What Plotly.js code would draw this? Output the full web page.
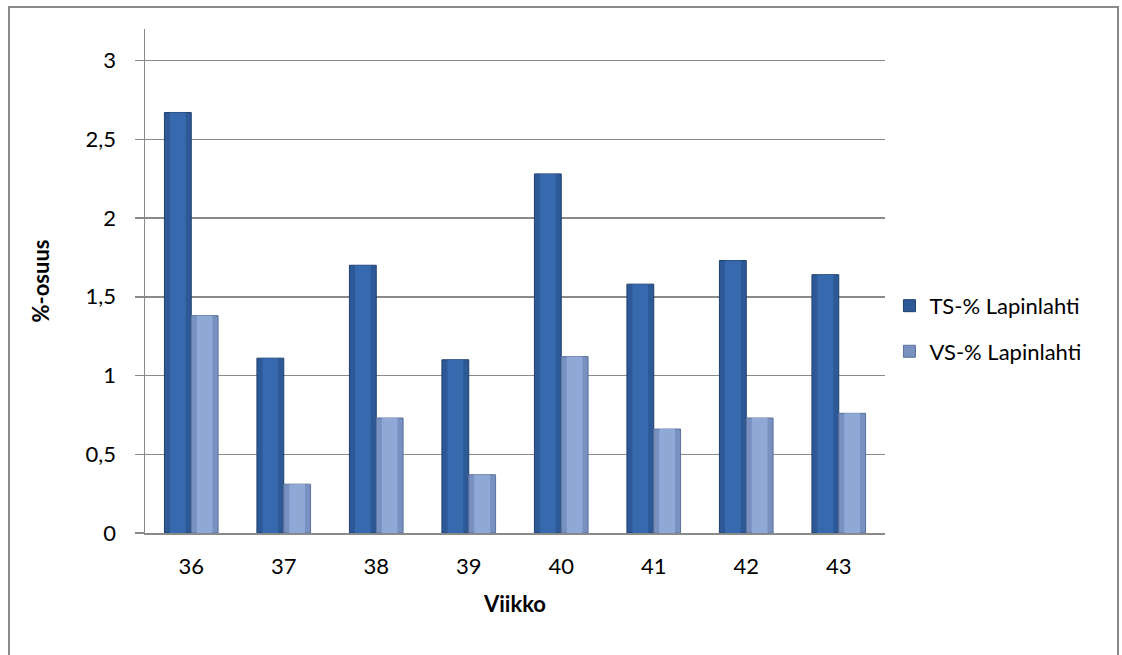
<!DOCTYPE html>
<html>
<head>
<meta charset="utf-8">
<script src="https://cdn.plot.ly/plotly-3.0.1.min.js"></script>
<style>
  html, body { margin: 0; padding: 0; background: #fff; }
  #wrap { position: relative; width: 1122px; height: 655px; overflow: hidden; }
  #chart { width: 1122px; height: 655px; }
  #frame { position: absolute; left: 8px; top: 6px; width: 1111px; height: 700px;
           border: 2px solid #8a8a8a; box-sizing: border-box; pointer-events: none; }
</style>
</head>
<body>
<div id="wrap">
  <div id="chart"></div>
  <div id="frame"></div>
</div>
<script>
// Weekly shares (%) for Lapinlahti
const weeks = ['36', '37', '38', '39', '40', '41', '42', '43'];
const tsValues = [2.67, 1.11, 1.70, 1.10, 2.28, 1.58, 1.73, 1.64];
const vsValues = [1.38, 0.31, 0.73, 0.37, 1.12, 0.66, 0.73, 0.76];
const seriesNames = ['TS-% Lapinlahti', 'VS-% Lapinlahti'];

const FONT = 'Lato, "Liberation Sans", sans-serif';
const BAR_W = 0.29;

// Main bar: darker edge colour with outline; the narrower overlay gives a bevelled look
function barPair(values, name, offset, edge, face, line, group) {
  return [
    {
      type: 'bar', x: weeks, y: values, name: name,
      offset: offset, width: BAR_W,
      marker: { color: edge, line: { color: line, width: 1 } },
      legendgroup: group, hoverinfo: 'x+y+name'
    },
    {
      type: 'bar', x: weeks, y: values, name: name,
      offset: offset + 0.06, width: BAR_W - 0.12,
      marker: { color: face, line: { width: 0 } },
      legendgroup: group, showlegend: false, hoverinfo: 'skip'
    }
  ];
}

const data = [
  ...barPair(tsValues, seriesNames[0], -BAR_W, '#2d5a97', '#3669ad', '#1f3f6d', 'ts'),
  ...barPair(vsValues, seriesNames[1], 0, '#7891c0', '#8fa8d5', '#5b719b', 'vs')
];

const layout = {
  width: 1122, height: 655,
  margin: { l: 145, r: 237, t: 29, b: 122, pad: 0 },
  paper_bgcolor: '#ffffff', plot_bgcolor: '#ffffff',
  barmode: 'overlay',
  separators: ', ',
  font: { family: FONT, size: 22, color: '#000' },
  showlegend: true,
  legend: {
    x: 1.006, xanchor: 'left', y: 0.405, yanchor: 'middle',
    font: { family: FONT, size: 22, color: '#000' },
    traceorder: 'grouped', tracegroupgap: 14,
    itemwidth: 30, bgcolor: 'rgba(0,0,0,0)'
  },
  xaxis: {
    type: 'category',
    showline: true, linecolor: '#8a8a8a', linewidth: 1.5,
    ticks: '', showgrid: false,
    tickfont: { family: FONT, size: 22, color: '#000' },
    ticklabelstandoff: 13,
    title: { text: '<b>Viikko</b>', font: { family: FONT, size: 22, color: '#000' }, standoff: 18 }
  },
  yaxis: {
    range: [0, 3.2],
    tickvals: [0, 0.5, 1, 1.5, 2, 2.5, 3],
    showline: true, linecolor: '#8a8a8a', linewidth: 1.5,
    ticks: 'outside', ticklen: 9, tickcolor: '#8a8a8a', tickwidth: 1.5,
    showgrid: true, gridcolor: '#8a8a8a', gridwidth: 1.5,
    zeroline: false,
    tickfont: { family: FONT, size: 22, color: '#000' },
    ticklabelstandoff: 14,
    title: { text: '<b>%-osuus</b>', font: { family: FONT, size: 22, color: '#000' }, standoff: 30 }
  }
};

Plotly.newPlot('chart', data, layout, { displayModeBar: false, staticPlot: true });
</script>
</body>
</html>
